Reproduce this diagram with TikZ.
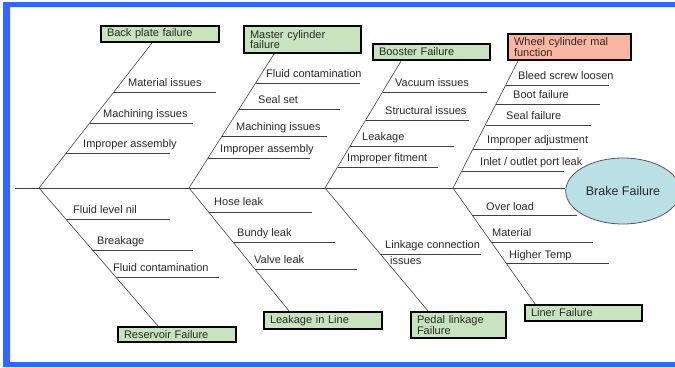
\documentclass[tikz,border=0pt]{standalone}
\usepackage{fontspec}
\setmainfont{Liberation Sans}
\usetikzlibrary{shapes.geometric}
\definecolor{framecol}{RGB}{51,102,255}
\definecolor{catfill}{RGB}{199,228,190}
\definecolor{hotfill}{RGB}{250,182,162}
\definecolor{headfill}{RGB}{186,224,230}
\definecolor{inkcol}{RGB}{40,40,40}
\tikzstyle{category} = [
  draw=black,
  rectangle,
  line width=2pt,
  fill=catfill,
  inner xsep=6pt,
  inner ysep=0pt,
  align=left,
  text=inkcol,
  font=\fontsize{11}{10.5}\selectfont,
]
\tikzstyle{problem} = [
  draw=black!65,
  ellipse,
  line width=0.8pt,
  fill=headfill,
  minimum width=106pt,
  minimum height=66pt,
  text=inkcol,
  font=\fontsize{12.5}{13}\selectfont,
]
\tikzstyle{cause} = [
  anchor=base west,
  inner sep=0pt,
  text=inkcol,
  font=\fontsize{11}{16}\selectfont,
]
\tikzstyle{bone} = [
  draw=black!75,
  line width=0.6pt,
]

\begin{document}
\begin{tikzpicture}[
    x=1pt,
    y=-1pt,
  ]
  \useasboundingbox (0,0) rectangle (675,367);
  \fill[framecol, even odd rule]
    (3,2) rectangle (676,367) (10,7) rectangle (676,362);
  % head and spine
  \node[problem] (bf) at (623,191) {Brake Failure};
  \coordinate (tail) at (15,188);
  \draw[bone, line width=1pt] (tail) -- (tail -| bf.west);
  \coordinate (s1) at (39,188);
  \coordinate (s2) at (189,188);
  \coordinate (s3) at (325,188);
  \coordinate (s4) at (453,188);
  % categories
  \node[category, text width=106pt, minimum height=16pt]
    (bpf) at (160,34) {Back plate failure};
  \node[category, text width=105pt, minimum height=27pt]
    (mcf) at (302.5,39.5) {Master cylinder\\failure};
  \node[category, text width=105pt, minimum height=16pt]
    (bof) at (431.5,52) {Booster Failure};
  \node[category, fill=hotfill, text width=111pt, minimum height=26pt]
    (wcf) at (569.5,47) {Wheel cylinder mal\\function};
  \node[category, text width=106pt, minimum height=15pt]
    (rf) at (177,334.5) {Reservoir Failure};
  \node[category, text width=106pt, minimum height=17pt]
    (lil) at (323,320.5) {Leakage in Line};
  \node[category, text width=83pt, minimum height=26pt]
    (plf) at (458.5,325) {Pedal linkage\\Failure};
  \node[category, text width=105pt, minimum height=16pt]
    (lf) at (583.5,313) {Liner Failure};
  % main bones
  \draw[bone] (s1) -- ([xshift=-8pt]bpf.south);
  \draw[bone] (s2) -- ([xshift=-28.5pt]mcf.south);
  \draw[bone] (s3) -- ([xshift=-30.5pt]bof.south);
  \draw[bone] (s4) -- ([xshift=-51.5pt]wcf.south);
  \draw[bone] (s1) -- ([xshift=-19pt]rf.north);
  \draw[bone] (s2) -- ([xshift=-34pt]lil.north);
  \draw[bone] (s3) -- ([xshift=-30.5pt]plf.north);
  \draw[bone] (s4) -- ([xshift=-48.5pt]lf.north);
  % back plate
  \coordinate (bp1) at (113.8,92);
  \coordinate (bp2) at (89.6,123);
  \coordinate (bp3) at (66.3,153);
  \draw[bone] (bp1) -- ++(102,0);
  \draw[bone] (bp2) -- ++(103,0);
  \draw[bone] (bp3) -- ++(104,0);
  \node[cause] (bpt1) at (128,86) {Material issues};
  \node[cause] (bpt2) at (103,117) {Machining issues};
  \node[cause] (bpt3) at (83,147) {Improper assembly};
  % master cylinder
  \coordinate (mc1) at (255.6,83);
  \coordinate (mc2) at (239,109);
  \coordinate (mc3) at (221.9,136);
  \coordinate (mc4) at (208,158);
  \draw[bone] (mc1) -- ++(104,0);
  \draw[bone] (mc2) -- ++(101,0);
  \draw[bone] (mc3) -- ++(105,0);
  \draw[bone] (mc4) -- ++(102,0);
  \node[cause] (mct1) at (266,77) {Fluid contamination};
  \node[cause] (mct2) at (258,103) {Seal set};
  \node[cause] (mct3) at (236,130) {Machining issues};
  \node[cause] (mct4) at (220,152) {Improper assembly};
  % booster
  \coordinate (bo1) at (382.9,92);
  \coordinate (bo2) at (366,120);
  \coordinate (bo3) at (350.3,146);
  \coordinate (bo4) at (337.7,167);
  \draw[bone] (bo1) -- ++(104,0);
  \draw[bone] (bo2) -- ++(103,0);
  \draw[bone] (bo3) -- ++(104,0);
  \draw[bone] (bo4) -- ++(100,0);
  \node[cause] (bot1) at (395,86) {Vacuum issues};
  \node[cause] (bot2) at (385,114) {Structural issues};
  \node[cause] (bot3) at (362,140) {Leakage};
  \node[cause] (bot4) at (347,161) {Improper fitment};
  % wheel cylinder
  \coordinate (wc1) at (506.1,85);
  \coordinate (wc2) at (496.3,104);
  \coordinate (wc3) at (485.5,125);
  \coordinate (wc4) at (473.1,149);
  \coordinate (wc5) at (461.8,171);
  \draw[bone] (wc1) -- ++(103,0);
  \draw[bone] (wc2) -- ++(104,0);
  \draw[bone] (wc3) -- ++(105,0);
  \draw[bone] (wc4) -- ++(105,0);
  \draw[bone] (wc5) -- ++(102,0);
  \node[cause] (wct1) at (518,79) {Bleed screw loosen};
  \node[cause] (wct2) at (513,98) {Boot failure};
  \node[cause] (wct3) at (506,119) {Seal failure};
  \node[cause] (wct4) at (487,143) {Improper adjustment};
  \node[cause] (wct5) at (480,165) {Inlet / outlet port leak};
  % reservoir
  \coordinate (rf1) at (65.7,219);
  \coordinate (rf2) at (92.4,250);
  \coordinate (rf3) at (115.7,277);
  \draw[bone] (rf1) -- ++(104,0);
  \draw[bone] (rf2) -- ++(101,0);
  \draw[bone] (rf3) -- ++(103,0);
  \node[cause] (rft1) at (73,213) {Fluid level nil};
  \node[cause] (rft2) at (97,244) {Breakage};
  \node[cause] (rft3) at (113,271) {Fluid contamination};
  % leakage in line
  \coordinate (ll1) at (208.5,212);
  \coordinate (ll2) at (232.9,242);
  \coordinate (ll3) at (254.9,269);
  \draw[bone] (ll1) -- ++(103,0);
  \draw[bone] (ll2) -- ++(102,0);
  \draw[bone] (ll3) -- ++(102,0);
  \node[cause] (llt1) at (214,205) {Hose leak};
  \node[cause] (llt2) at (237,236) {Bundy leak};
  \node[cause] (llt3) at (254,263) {Valve leak};
  % pedal linkage
  \coordinate (pl1) at (380.2,254);
  \draw[bone] (pl1) -- ++(101,0);
  \node[cause, anchor=north west, align=left]
    (plt1) at (385,240) {Linkage connection\\\hspace*{5pt}issues};
  % liner
  \coordinate (lf1) at (472.1,215);
  \coordinate (lf2) at (491.2,242);
  \coordinate (lf3) at (506,263);
  \draw[bone] (lf1) -- ++(105,0);
  \draw[bone] (lf2) -- ++(102,0);
  \draw[bone] (lf3) -- ++(103,0);
  \node[cause] (lft1) at (486,210) {Over load};
  \node[cause] (lft2) at (492,236) {Material};
  \node[cause] (lft3) at (509,258) {Higher Temp};
\end{tikzpicture}
\end{document}
